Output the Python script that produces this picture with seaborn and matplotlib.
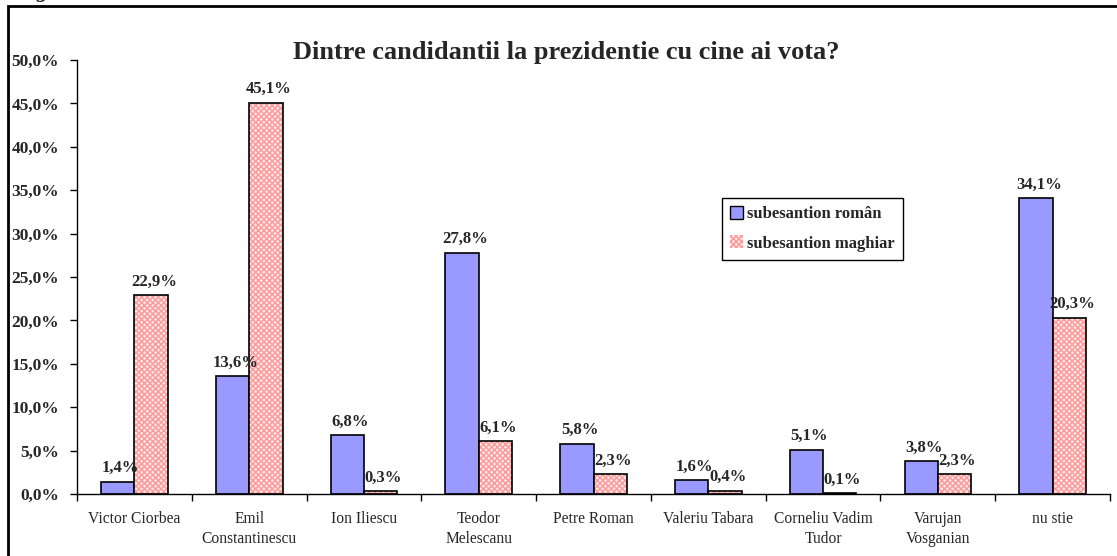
import pandas as pd
import matplotlib.pyplot as plt
import matplotlib.patches as mpatches
import seaborn as sns
import numpy as np

# Data
candidati = ['Victor Ciorbea', 'Emil\nConstantinescu', 'Ion Iliescu', 'Teodor\nMelescanu',
             'Petre Roman', 'Valeriu Tabara', 'Corneliu Vadim\nTudor', 'Varujan\nVosganian', 'nu stie']
roman = [1.4, 13.6, 6.8, 27.8, 5.8, 1.6, 5.1, 3.8, 34.1]
maghiar = [22.9, 45.1, 0.3, 6.1, 2.3, 0.4, 0.1, 2.3, 20.3]
serii = ['subesantion român', 'subesantion maghiar']
y_ticks = [0, 5, 10, 15, 20, 25, 30, 35, 40, 45, 50]

df = pd.DataFrame({
    'candidat': candidati * 2,
    'valoare': roman + maghiar,
    'serie': [serii[0]] * len(candidati) + [serii[1]] * len(candidati),
})

sns.set_theme(style="white")
plt.rcParams['font.family'] = ['Liberation Serif', 'DejaVu Serif']
plt.rcParams['font.size'] = 11

blue = '#9999FF'
pink_face = '#FFE6E6'
pink_hatch = '#FF9999'

fig = plt.figure(figsize=(11.17, 5.56), dpi=100)
ax = fig.add_axes([0.069, 0.1115, 0.9247, 0.7805])

sns.barplot(data=df, x='candidat', y='valoare', hue='serie', order=candidati,
            hue_order=serii, palette=[blue, pink_face], width=0.58, saturation=1,
            edgecolor='black', linewidth=1.2, ax=ax, legend=False)

# pink bars: hatched fill + black outline
n = len(candidati)
bars_ro = ax.containers[0]
bars_hu = ax.containers[1]
for p in bars_hu:
    p.set_edgecolor(pink_hatch)
    p.set_hatch('xxxxxx')
    p.set_linewidth(0)
    ax.add_patch(mpatches.Rectangle(p.get_xy(), p.get_width(), p.get_height(),
                                    fill=False, edgecolor='black', linewidth=1.2, zorder=3))

# value labels
for cont, vals in [(bars_ro, roman), (bars_hu, maghiar)]:
    for p, v in zip(cont, vals):
        ax.annotate(f"{v:.1f}%".replace('.', ','),
                    (p.get_x() + p.get_width() / 2, p.get_height()),
                    xytext=(2, 4), textcoords='offset points', ha='center', va='bottom',
                    fontsize=12, fontweight='bold')

ax.set_ylim(0, 50)
ax.set_xlim(-0.5, n - 0.5)
ax.set_yticks(y_ticks)
ax.set_yticklabels([f"{t:.1f}%".replace('.', ',') for t in y_ticks], fontweight='bold', fontsize=12.5)
ax.set_xticks(np.arange(-0.5, n, 1.0))
ax.set_xticklabels([])
ax.set_xticks(np.arange(n), minor=True)
ax.set_xticklabels(candidati, minor=True, fontsize=11.2, linespacing=1.4)
ax.tick_params(axis='x', which='minor', length=0, pad=12)
ax.tick_params(axis='x', which='major', direction='out', length=5, width=1, color='black', bottom=True)
ax.tick_params(axis='y', direction='out', length=5, width=1, color='black', left=True, pad=8)
for lab in ax.get_xticklabels(minor=True):
    lab.set_verticalalignment('top')

ax.set_xlabel('')
ax.set_ylabel('')
sns.despine(ax=ax, top=True, right=True)
ax.spines['left'].set_color('black')
ax.spines['bottom'].set_color('black')
ax.spines['left'].set_linewidth(1)
ax.spines['bottom'].set_linewidth(1)
ax.grid(False)

fig.text(0.507, 0.906, 'Dintre candidantii la prezidentie cu cine ai vota?',
         ha='center', va='center', fontsize=19, fontweight='bold')

handles = [mpatches.Patch(facecolor=blue, edgecolor='black', linewidth=1),
           mpatches.Patch(facecolor=pink_face, edgecolor=pink_hatch, hatch='xxxxxx', linewidth=0)]
leg = ax.legend(handles, serii, loc='upper left', bbox_to_anchor=(0.624, 0.683),
                frameon=True, fancybox=False, edgecolor='black', framealpha=1,
                handlelength=0.8, handleheight=0.8, handletextpad=0.2, labelspacing=0.8,
                borderpad=0.5, borderaxespad=0, prop={'weight': 'bold', 'size': 12})
leg.get_frame().set_linewidth(1)

# outer frame
fig.patches.append(mpatches.Rectangle((0.0072, -0.01), 1.0, 0.9992 - 0.0092 + 0.01,
                                      transform=fig.transFigure, fill=False,
                                      edgecolor='black', linewidth=2))
fig.text(0.033, 1.005, 'g', ha='left', va='baseline', fontsize=16,
         fontweight='bold', fontstyle='italic')

plt.savefig('out.png', dpi=100)
